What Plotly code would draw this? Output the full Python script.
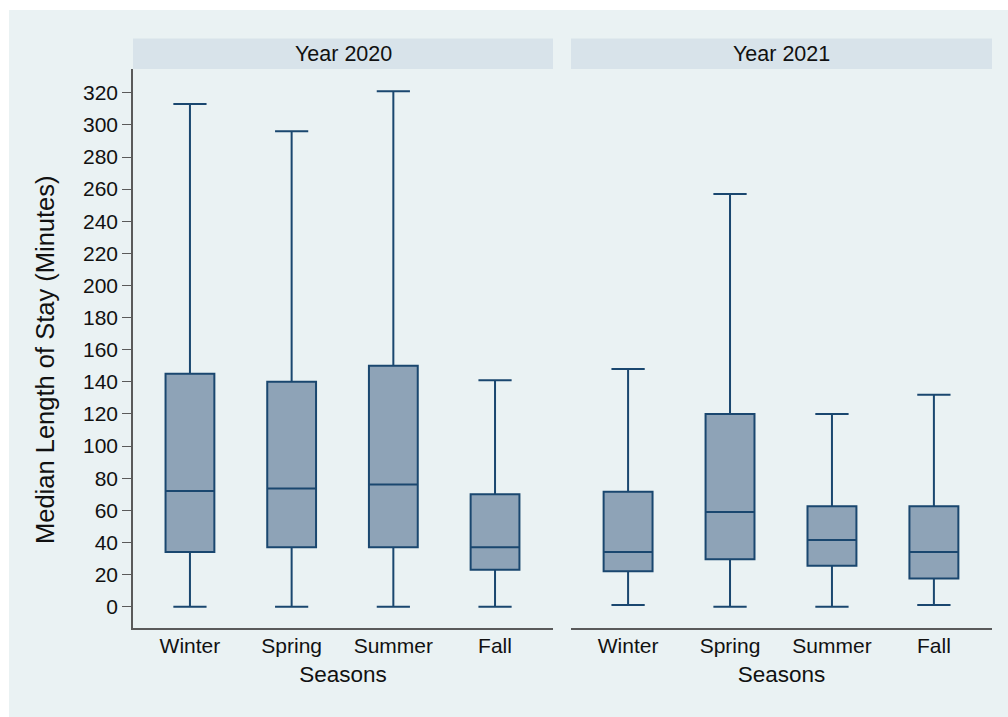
import plotly.graph_objects as go

W, H = 1008, 717

seasons = ["Winter", "Spring", "Summer", "Fall"]
years = ["Year 2020", "Year 2021"]

# 2020
low_2020 = [0, 0, 0, 0]
q1_2020 = [34, 37, 37, 23]
med_2020 = [72, 73.5, 76, 37]
q3_2020 = [145, 140, 150, 70]
high_2020 = [313, 296, 321, 141]

# 2021
low_2021 = [1, 0, 0, 1]
q1_2021 = [22, 29.5, 25.5, 17.5]
med_2021 = [34, 59, 41.5, 34]
q3_2021 = [71.5, 120, 62.5, 62.5]
high_2021 = [148, 257, 120, 132]

y_ticks = list(range(0, 321, 20))
y_title = "Median Length of Stay (Minutes)"
x_title = "Seasons"

LINE = "#1a476f"
FILL = "#8ea3b7"
BG = "#eaf2f3"
HEAD = "#d8e3ea"
AXC = "#5a5a5a"
FONT = "Liberation Sans, Arial, Helvetica, sans-serif"

def px(x):
    return x / W

def py(y):
    return 1 - y / H

fig = go.Figure()

data = [
    (low_2020, q1_2020, med_2020, q3_2020, high_2020, "x", "y"),
    (low_2021, q1_2021, med_2021, q3_2021, high_2021, "x2", "y2"),
]
for lo, q1, md, q3, hi, xa, ya in data:
    fig.add_trace(go.Box(
        x=seasons, lowerfence=lo, q1=q1, median=md, q3=q3, upperfence=hi,
        boxpoints=False, width=0.48, whiskerwidth=0.68,
        line=dict(color=LINE, width=2), fillcolor=FILL,
        xaxis=xa, yaxis=ya, showlegend=False, hoverinfo="skip",
    ))

xr = [-0.56, 3.57]
yr = [-13.3, 334.8]
plot_top, plot_bot = 69, 628
p1 = (133, 553)
p2 = (571, 992)

common_x = dict(
    type="category", categoryorder="array", categoryarray=seasons,
    range=xr, showgrid=False, zeroline=False, showline=True, linecolor=AXC,
    linewidth=1.5, ticks="", tickfont=dict(family=FONT, size=21, color="#111"),
    ticklabelstandoff=-2,
    title=dict(text=x_title, font=dict(family=FONT, size=22.5, color="#111"), standoff=10),
    fixedrange=True,
)
fig.update_layout(
    width=W, height=H,
    margin=dict(l=0, r=0, t=0, b=0),
    paper_bgcolor="white", plot_bgcolor="white",
    xaxis=dict(domain=[px(p1[0]), px(p1[1])], anchor="y", **common_x),
    xaxis2=dict(domain=[px(p2[0]), px(p2[1])], anchor="y2", **common_x),
    yaxis=dict(
        domain=[py(plot_bot), py(plot_top)], anchor="x", range=yr,
        tickvals=y_ticks, ticktext=[str(v) for v in y_ticks],
        showgrid=False, zeroline=False, showline=True, linecolor=AXC, linewidth=1.5,
        ticks="outside", ticklen=9, tickcolor=AXC, tickwidth=1.3,
        tickfont=dict(family=FONT, size=21, color="#111"),
        fixedrange=True,
    ),
    yaxis2=dict(
        domain=[py(plot_bot), py(plot_top)], anchor="x2", range=yr,
        showgrid=False, zeroline=False, showline=False, showticklabels=False,
        ticks="", fixedrange=True,
    ),
    showlegend=False,
)

shapes = [
    dict(type="rect", xref="paper", yref="paper", x0=px(9), x1=1, y0=0, y1=py(10),
         fillcolor=BG, line=dict(width=0), layer="below"),
]
annotations = [
    dict(xref="paper", yref="paper", x=px(45), y=py(360), text=y_title,
         textangle=-90, showarrow=False, xanchor="center", yanchor="middle",
         font=dict(family=FONT, size=25.5, color="#111")),
]
for (a, b), title in zip([p1, p2], years):
    shapes.append(dict(type="rect", xref="paper", yref="paper",
                       x0=px(a), x1=px(b), y0=py(69), y1=py(38.5),
                       fillcolor=HEAD, line=dict(width=0), layer="below"))
    annotations.append(dict(xref="paper", yref="paper", x=px((a + b) / 2), y=py(54),
                            text=title, showarrow=False, xanchor="center", yanchor="middle",
                            font=dict(family=FONT, size=21.5, color="#111")))
fig.update_layout(shapes=shapes, annotations=annotations)

fig.write_html("out.html")
